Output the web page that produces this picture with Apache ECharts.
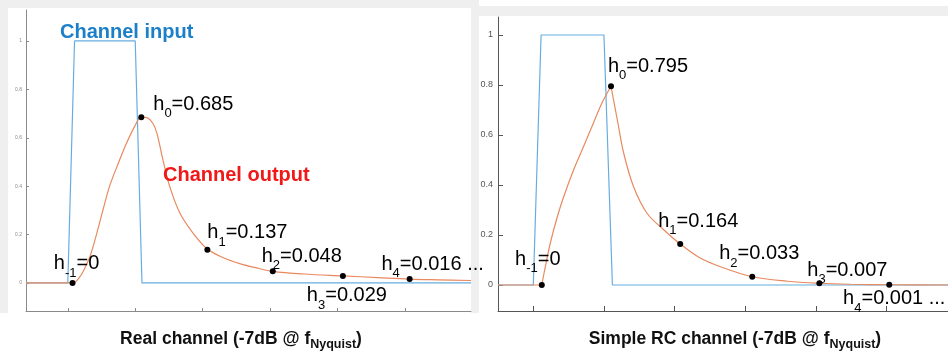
<!DOCTYPE html>
<html>
<head>
<meta charset="utf-8">
<script src="https://cdn.jsdelivr.net/npm/echarts@6/dist/echarts.min.js"></script>
<style>
html, body { margin: 0; padding: 0; background: #fff; }
#chart { width: 948px; height: 354px; }
</style>
</head>
<body>
<div id="chart"></div>
<script>
// ticks (x ticks carry no labels, unit = 1 UI)
var xTicks = [0, 1, 2, 3, 4, 5];
var yTicks = [0, 0.2, 0.4, 0.6, 0.8, 1];

// channel input: one UI wide pulse
var realPulseX = [-0.62, 0, 0.1, 1.0, 1.1, 5.98];
var realPulseY = [0, 0, 1, 1, 0, 0];
var rcPulseX = [-0.5, 0, 0.11, 1.0, 1.12, 5.9];
var rcPulseY = [0, 0, 1, 1, 0, 0];

// channel output, real channel
var realX = [-0.62, 0.07, 0.18, 0.25, 0.33, 0.43, 0.52, 0.62, 0.75, 0.87,
    0.99, 1.09, 1.18, 1.26, 1.32, 1.41, 1.51, 1.66, 1.86, 2.07,
    2.3, 2.55, 2.8, 3.04, 3.5, 4.08, 4.6, 5.07, 5.5, 5.98];
var realY = [0, 0, 0.026, 0.06, 0.11, 0.205, 0.3, 0.4, 0.495, 0.577,
    0.646, 0.685, 0.682, 0.66, 0.62, 0.51, 0.4, 0.29, 0.205, 0.14,
    0.105, 0.08, 0.062, 0.048, 0.037, 0.029, 0.022, 0.016, 0.013, 0.01];

// channel output, simple RC channel
var rcX = [-0.5, 0.12, 0.17, 0.24, 0.34, 0.43, 0.57, 0.71, 0.85, 0.97,
    1.1, 1.19, 1.28, 1.42, 1.61, 1.85, 2.08, 2.35, 2.65, 3.1,
    3.6, 4.05, 4.5, 5.04, 5.9];
var rcY = [0, 0, 0.073, 0.167, 0.273, 0.353, 0.46, 0.553, 0.647, 0.727,
    0.795, 0.66, 0.527, 0.393, 0.287, 0.22, 0.164, 0.11, 0.073, 0.033,
    0.015, 0.007, 0.003, 0.001, 0];

// sampled cursors h-1 .. h4
var hSubs = ['-1', '0', '1', '2', '3', '4'];
var realHX = [0.07, 1.09, 2.07, 3.04, 4.08, 5.07];
var realH = [0, 0.685, 0.137, 0.048, 0.029, 0.016];
var rcHX = [0.12, 1.1, 2.08, 3.1, 4.05, 5.04];
var rcH = [0, 0.795, 0.164, 0.033, 0.007, 0.001];

// label placement, px from the dot
var realLabelOff = [[4, -19], [52, -13], [40, -17], [29, -15], [4, 20], [23, -15]];
var rcLabelOff = [[-4, -26], [37, -20], [18, -23], [7, -23], [28, -13], [5, 14]];

var FONT = '"Liberation Sans", Arial, sans-serif';
var BLUE = '#68ade0', ORANGE = '#e8895f';

function xy(xs, ys) {
    return xs.map(function (x, i) { return [x, ys[i]]; });
}

function xAxisFor(g, min, max, color, tick) {
    return {
        type: 'value', gridIndex: g, min: min, max: max,
        axisLine: {onZero: false, lineStyle: {color: color, width: 1}},
        axisTick: {inside: true, length: tick, customValues: xTicks, lineStyle: {color: color}},
        axisLabel: {show: false},
        splitLine: {show: false}
    };
}

function yAxisFor(g, min, max, color, tick, fs, margin) {
    return {
        type: 'value', gridIndex: g, min: min, max: max,
        axisLine: {onZero: false, lineStyle: {color: color, width: 1}},
        axisTick: {inside: true, length: tick, customValues: yTicks, lineStyle: {color: color}},
        axisLabel: {customValues: yTicks, fontSize: fs, color: color, margin: margin, fontFamily: FONT},
        splitLine: {show: false}
    };
}

function line(g, data, color, smooth, z) {
    return {
        type: 'line', xAxisIndex: g, yAxisIndex: g, data: data,
        symbol: 'none', smooth: smooth, z: z,
        lineStyle: {color: color, width: 1.2}
    };
}

function dots(g, xs, vals, offs) {
    var last = vals.length - 1;
    var txt = {fontSize: 20, fontFamily: FONT, color: '#000', lineHeight: 22, textBorderWidth: 0};
    return {
        type: 'scatter', xAxisIndex: g, yAxisIndex: g, z: 5,
        symbol: 'circle', symbolSize: 6,
        itemStyle: {color: '#000', opacity: 1},
        data: xs.map(function (x, i) {
            return {value: [x, vals[i]], label: {offset: offs[i]}};
        }),
        label: {
            show: true, position: 'inside', color: '#000', opacity: 1, textBorderWidth: 0,
            formatter: function (p) {
                var i = p.dataIndex;
                return '{m|h}{s|' + hSubs[i] + '}{m|=' + vals[i] + (i === last ? ' ...' : '') + '}';
            },
            rich: {
                m: txt,
                s: {fontSize: 13, fontFamily: FONT, color: '#000', lineHeight: 22, textBorderWidth: 0, padding: [19, 0, 0, 0]}
            }
        }
    };
}

function split(xs, ys) {
    // RC output has corners at the pulse edges: flat, rise, decay
    var pk = ys.indexOf(Math.max.apply(null, ys));
    var pts = xy(xs, ys);
    return [pts.slice(0, 2), pts.slice(1, pk + 1), pts.slice(pk)];
}

function title(x, y, txt) {
    return {
        type: 'text', x: x, y: y, z: 10, silent: true,
        style: {
            text: '{m|' + txt + ' (-7dB @ f}{s|Nyquist}{m|)}',
            align: 'center', verticalAlign: 'middle',
            rich: {
                m: {fontSize: 17.5, fontWeight: 'bold', fontFamily: FONT, fill: '#111', lineHeight: 22},
                s: {fontSize: 12.5, fontWeight: 'bold', fontFamily: FONT, fill: '#111', lineHeight: 22, padding: [12, 0, 0, 0]}
            }
        }
    };
}

var rcParts = split(rcX, rcY);
var chart = echarts.init(document.getElementById('chart'), null, {renderer: 'canvas'});

chart.setOption({
    animation: false,
    backgroundColor: '#fff',
    grid: [
        {left: 26, top: 10, width: 445, height: 301, outerBoundsMode: 'none'},
        {left: 498, top: 17, width: 452, height: 294, outerBoundsMode: 'none'}
    ],
    xAxis: [
        xAxisFor(0, -0.62, 5.98, '#8a8a8a', 3),
        xAxisFor(1, -0.5, 5.9, '#555', 5)
    ],
    yAxis: [
        yAxisFor(0, -0.116, 1.128, '#8a8a8a', 3, 5, 4),
        yAxisFor(1, -0.104, 1.072, '#555', 5, 9, 5)
    ],
    series: [
        line(0, xy(realPulseX, realPulseY), BLUE, false, 2),
        line(0, xy(realX, realY), ORANGE, 0.35, 3),
        dots(0, realHX, realH, realLabelOff),
        line(1, xy(rcPulseX, rcPulseY), BLUE, false, 2),
        line(1, rcParts[0], ORANGE, false, 3),
        line(1, rcParts[1], ORANGE, 0.35, 3),
        line(1, rcParts[2], ORANGE, 0.35, 3),
        dots(1, rcHX, rcH, rcLabelOff)
    ],
    graphic: [
        {type: 'rect', silent: true, z: -1, shape: {x: 0, y: 0, width: 479, height: 8}, style: {fill: '#efefef'}},
        {type: 'rect', silent: true, z: -1, shape: {x: 0, y: 0, width: 8, height: 313}, style: {fill: '#efefef'}},
        {type: 'rect', silent: true, z: -1, shape: {x: 471, y: 0, width: 8, height: 313}, style: {fill: '#efefef'}},
        {type: 'rect', silent: true, z: -1, shape: {x: 479, y: 6, width: 469, height: 10}, style: {fill: '#efefef'}},
        {
            type: 'text', x: 60, y: 32, z: 10, silent: true,
            style: {text: 'Channel input', fill: '#1c80c8', fontSize: 20, fontWeight: 'bold', fontFamily: FONT, align: 'left', verticalAlign: 'middle'}
        },
        {
            type: 'text', x: 163, y: 175, z: 10, silent: true,
            style: {text: 'Channel output', fill: '#f01818', fontSize: 20, fontWeight: 'bold', fontFamily: FONT, align: 'left', verticalAlign: 'middle'}
        },
        title(241, 339, 'Real channel'),
        title(735, 339, 'Simple RC channel')
    ]
});
</script>
</body>
</html>
